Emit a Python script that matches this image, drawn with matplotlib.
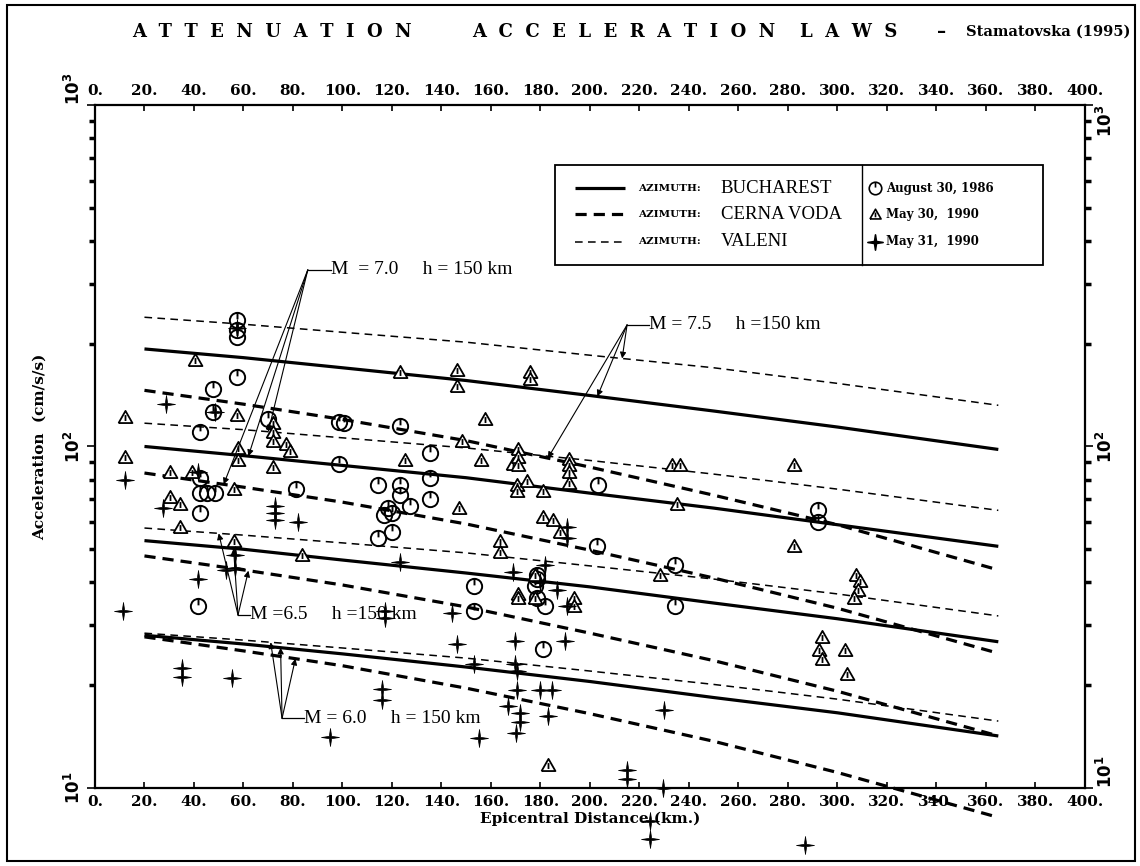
import numpy as np
import matplotlib
matplotlib.use('Agg')
from matplotlib import pyplot as plt
import matplotlib.path as mpath
from matplotlib.lines import Line2D
from matplotlib.patches import Rectangle

# attenuation curves (cm/s/s) at these epicentral distances (km)
dist_line = [20, 60, 100, 150, 200, 250, 300, 365]

buc_75 = [193, 182, 170, 156, 141, 127, 114, 98]
buc_70 = [100, 94, 88, 81, 73, 66, 59, 51]
buc_65 = [53, 50, 46.5, 42.6, 38.8, 34.8, 31.3, 26.8]
buc_60 = [28, 26.4, 24.7, 22.6, 20.5, 18.4, 16.6, 14.2]

cer_75 = [146, 133, 120, 104, 87, 72, 59, 43.5]
cer_70 = [83.6, 76, 68.7, 59.3, 49.7, 41.2, 33.6, 24.8]
cer_65 = [47.8, 43.5, 39.3, 33.9, 28.4, 23.6, 19.2, 14.2]
cer_60 = [27.7, 25.2, 22.8, 19.6, 16.5, 13.7, 11.1, 8.2]

val_75 = [239, 228, 216, 202, 185, 170, 153, 132]
val_70 = [117, 112, 106, 99, 91, 83, 75, 65]
val_65 = [57.7, 55, 52.2, 48.8, 44.7, 40.9, 37, 31.9]
val_60 = [28.4, 27.1, 25.7, 24, 22, 20.1, 18.2, 15.7]

# recorded peaks - August 30, 1986
aug86_km = [57.4, 57.4, 57.4, 57.4, 47.7, 47.7, 42.4, 42.4, 42.4, 45.3, 48.5, 42.4, 41.6,
            69.9, 98.5, 100.5, 81.2, 98.5, 123.2, 114.3, 118.4, 120.0, 116.8, 123.2, 123.2,
            127.3, 135.4, 135.4, 135.4, 114.3, 120.0, 153.1, 153.1, 178.6, 178.6, 177.8,
            178.6, 181.8, 181.0, 202.8, 234.3, 234.3, 203.2, 292.1, 292.1]
aug86_acc = [235, 219, 209, 160, 147, 126, 110, 81, 73, 73, 73, 64, 34,
             120, 118, 117, 75, 89, 115, 77, 66, 64, 63, 77, 72,
             67, 96, 81, 70, 54, 56, 39, 33, 42, 41, 39,
             36, 34, 25.5, 51, 45, 34, 77, 65, 60]

# May 30, 1990
may30_km = [12.1, 12.1, 40.4, 30.3, 39.2, 30.3, 34.3, 34.3, 56.0, 57.4, 57.8, 57.8, 56.0,
            72.0, 72.0, 72.0, 72.0, 77.0, 79.0, 83.6, 125.3, 123.2, 146.3, 146.3, 148.3,
            147.1, 157.6, 156.0, 168.9, 170.5, 170.5, 170.9, 170.9, 170.9, 174.5, 175.8,
            175.8, 170.9, 170.9, 163.6, 163.6, 177.8, 177.8, 181.0, 181.0, 185.1, 187.9,
            191.5, 191.5, 191.5, 191.5, 193.5, 193.5, 183.0, 228.3, 233.1, 236.4, 235.2,
            282.4, 282.4, 293.7, 292.5, 293.7, 303.0, 303.8, 307.5, 309.1, 308.3, 306.7]
may30_acc = [122, 93, 179, 84, 84, 71, 68, 58, 75, 124, 99, 91, 53,
             117, 110, 104, 87, 102, 97, 48, 91, 165, 168, 150, 104,
             66, 120, 91, 89, 77, 74, 98, 93, 88, 79, 165,
             158, 37, 36, 53, 49, 42, 36, 74, 62, 61, 56,
             92, 88, 84, 78, 36, 34, 11.7, 42, 88, 88, 68,
             88, 51, 27.6, 25.3, 23.8, 25.3, 21.6, 42, 40.5, 38, 36]

# May 31, 1990
may31_km = [12.1, 11.3, 28.7, 27.5, 41.6, 41.6, 52.9, 56.6, 56.6, 72.7, 72.7, 72.7, 82.0,
            35.0, 35.0, 55.4, 57.4, 48.5, 117.2, 117.2, 116.0, 116.0, 94.9, 123.2, 144.2,
            146.3, 153.1, 155.0, 168.9, 169.7, 169.7, 170.5, 170.5, 167.0, 171.7, 171.7,
            170.0, 179.8, 184.6, 179.8, 181.8, 186.7, 190.7, 190.7, 190.7, 189.9, 183.0,
            215.0, 215.0, 229.5, 224.2, 224.2, 230.0, 287.0]
may31_acc = [80, 33, 133, 66, 84, 41, 43.6, 48, 44, 67, 64, 61, 60,
             22.5, 21.1, 21, 222, 126, 33, 31.5, 19.5, 18.1, 14.1, 46, 32.6,
             26.4, 23.1, 14, 43, 27, 23, 22, 19.3, 17.4, 16.6, 15.6,
             14.5, 19.4, 19.4, 40, 45, 38, 34, 58, 54, 27, 16.2,
             11.3, 10.6, 10, 8.0, 7.1, 16.9, 6.8]

x_ticks = list(range(0, 401, 20))
x_labels = [f'{v}.' for v in x_ticks]

serif = 'DejaVu Serif'
times = 'Liberation Serif'

# marker shapes: circle with a tick, triangle with a bar, four point star
P = mpath.Path
circ_mark = P.make_compound_path(P.unit_circle(), P([(0, 1), (0, 0.15)]))
tri_mark = P.make_compound_path(
    P([(-1, -0.8), (1, -0.8), (0, 0.95), (-1, -0.8)]),
    P([(0, 0.35), (0, -0.5)]))
star_mark = P([(0, 1), (0.13, 0.13), (1, 0), (0.13, -0.13), (0, -1),
               (-0.13, -0.13), (-1, 0), (-0.13, 0.13), (0, 1)], closed=True)

fig = plt.figure(figsize=(11.4, 8.66), dpi=100)
ax = fig.add_axes([0.0833, 0.0901, 0.8684, 0.7887])

solid = dict(color='black', lw=2.3, solid_capstyle='butt')
thick_dash = dict(color='black', lw=2.3, dashes=(3.5, 2.2))
thin_dash = dict(color='black', lw=1.1, dashes=(5, 3.5))

for arr in [buc_75, buc_70, buc_65, buc_60]:
    ax.plot(dist_line, arr, **solid)
for arr in [cer_75, cer_70, cer_65, cer_60]:
    ax.plot(dist_line, arr, clip_on=False, **thick_dash)
for arr in [val_75, val_70, val_65, val_60]:
    ax.plot(dist_line, arr, **thin_dash)

ax.plot(aug86_km, aug86_acc, ls='none', marker=circ_mark, ms=11, mfc='none',
        mec='black', mew=1.4, clip_on=False)
ax.plot(may30_km, may30_acc, ls='none', marker=tri_mark, ms=10, mfc='white',
        mec='black', mew=1.3, clip_on=False)
ax.plot(may31_km, may31_acc, ls='none', marker=star_mark, ms=13, mfc='black',
        mec='black', mew=0.5, clip_on=False)


def on_line(arr, d):
    return 10 ** np.interp(d, dist_line, np.log10(arr))


def label_group(corner, text_at, tips, text):
    ax.plot([corner[0], text_at[0]], [corner[1], corner[1]], color='black', lw=0.9)
    for tip in tips:
        ax.annotate('', xy=tip, xytext=corner,
                    arrowprops=dict(arrowstyle='-|>', lw=0.8, color='black',
                                    shrinkA=0, shrinkB=0, mutation_scale=9))
    ax.text(text_at[0], corner[1], text, family=times, fontsize=14,
            va='center', ha='left')


label_group((86, 329), (95.5, 329),
            [(70, on_line(val_70, 70)), (62, on_line(buc_70, 62)), (52, on_line(cer_70, 52))],
            'M  = 7.0     h = 150 km')
label_group((215, 227), (224, 227),
            [(213, on_line(val_75, 213)), (203, on_line(buc_75, 203)), (183, on_line(cer_75, 183))],
            'M = 7.5     h =150 km')
label_group((57.8, 32.1), (62.5, 32.1),
            [(50, on_line(val_65, 50)), (56, on_line(buc_65, 56)), (62, on_line(cer_65, 62))],
            'M =6.5     h =150 km')
label_group((75.6, 16.0), (84.5, 16.0),
            [(71, on_line(val_60, 71)), (75, on_line(buc_60, 75)), (81, on_line(cer_60, 81))],
            'M = 6.0     h = 150 km')

ax.set_xlim(0, 400)
ax.set_yscale('log')
ax.set_ylim(10, 1000)
ax.set_xticks(x_ticks, x_labels)
ax.set_yticks([10, 100, 1000], ['$\\mathbf{10^1}$', '$\\mathbf{10^2}$', '$\\mathbf{10^3}$'])
ax.tick_params(axis='x', direction='in', top=True, labeltop=True, length=4, width=1.2,
               labelsize=11, pad=5)
ax.tick_params(axis='y', which='major', direction='out', right=True, labelright=True,
               length=6, width=1.2, labelsize=12, labelrotation=90, pad=2)
ax.tick_params(axis='y', which='minor', direction='out', right=True, length=4, width=2.5)
for lab in ax.get_xticklabels():
    lab.set_fontfamily(serif)
    lab.set_fontweight('bold')
for lab in ax.xaxis.get_ticklabels():
    lab.set_fontfamily(serif)
yt = ax.yaxis.get_major_ticks()
for t in yt:
    t.label1.set_va('center')
    t.label2.set_va('center')
# corner labels sit beside the x tick labels, as in the original print
yt[2].label1.set_va('bottom')
yt[2].label2.set_va('top')
yt[0].label2.set_va('bottom')
for t in ax.xaxis.get_major_ticks():
    t.label2.set_fontfamily(serif)
    t.label2.set_fontweight('bold')
for sp in ax.spines.values():
    sp.set_linewidth(1.6)

ax.set_xlabel('Epicentral Distance (km.)', family=serif, fontweight='bold', fontsize=11,
              labelpad=2)
ax.set_ylabel('Acceleration  (cm/s/s)', family=serif, fontweight='bold', fontsize=11,
              labelpad=12)

# legend drawn as two boxes
lx0, lx1, lxm = 0.4646, 0.9576, 0.775
ly0, ly1 = 0.766, 0.912
ax.add_patch(Rectangle((lx0, ly0), lx1 - lx0, ly1 - ly0, transform=ax.transAxes,
                       fill=True, fc='white', ec='black', lw=1.3, zorder=5))
ax.plot([lxm, lxm], [ly0, ly1], transform=ax.transAxes, color='black', lw=1.0, zorder=6)
rows = [0.878, 0.840, 0.800]
line_styles = [solid, thick_dash, thin_dash]
names = ['BUCHAREST', 'CERNA VODA', 'VALENI']
for yr, st, nm in zip(rows, line_styles, names):
    ax.add_line(Line2D([0.485, 0.535], [yr, yr], transform=ax.transAxes, zorder=6, **st))
    ax.text(0.549, yr, 'AZIMUTH:', transform=ax.transAxes, family=serif, fontweight='bold',
            fontsize=7.5, va='center', zorder=6)
    ax.text(0.632, yr, nm, transform=ax.transAxes, family=times, fontsize=13.5,
            va='center', zorder=6)
events = ['August 30, 1986', 'May 30,  1990', 'May 31,  1990']
marks = [(circ_mark, 'none', 9), (tri_mark, 'white', 8), (star_mark, 'black', 11)]
for yr, ev, (mk, fc, ms) in zip(rows, events, marks):
    ax.add_line(Line2D([0.788], [yr], transform=ax.transAxes, marker=mk, ms=ms, mfc=fc,
                       mec='black', mew=1.2, ls='none', zorder=6))
    ax.text(0.799, yr, ev, transform=ax.transAxes, family=serif, fontweight='bold',
            fontsize=8.5, va='center', zorder=6)

title_words = ['A  T  T  E  N  U  A  T  I  O  N', 'A  C  C  E  L  E  R  A  T  I  O  N',
               'L  A  W  S', '\u2013']
title_x = [0.116, 0.414, 0.702, 0.822]
for w, xw in zip(title_words, title_x):
    fig.text(xw, 0.963, w, family=serif, fontweight='bold', fontsize=13, va='center')
fig.text(0.847, 0.963, 'Stamatovska (1995)', family=serif, fontweight='bold',
         fontsize=10.5, va='center')

fig.add_artist(Rectangle((0.006, 0.006), 0.99, 0.988, transform=fig.transFigure,
                         fill=False, ec='black', lw=1.5))

fig.savefig('out.png', dpi=100)
